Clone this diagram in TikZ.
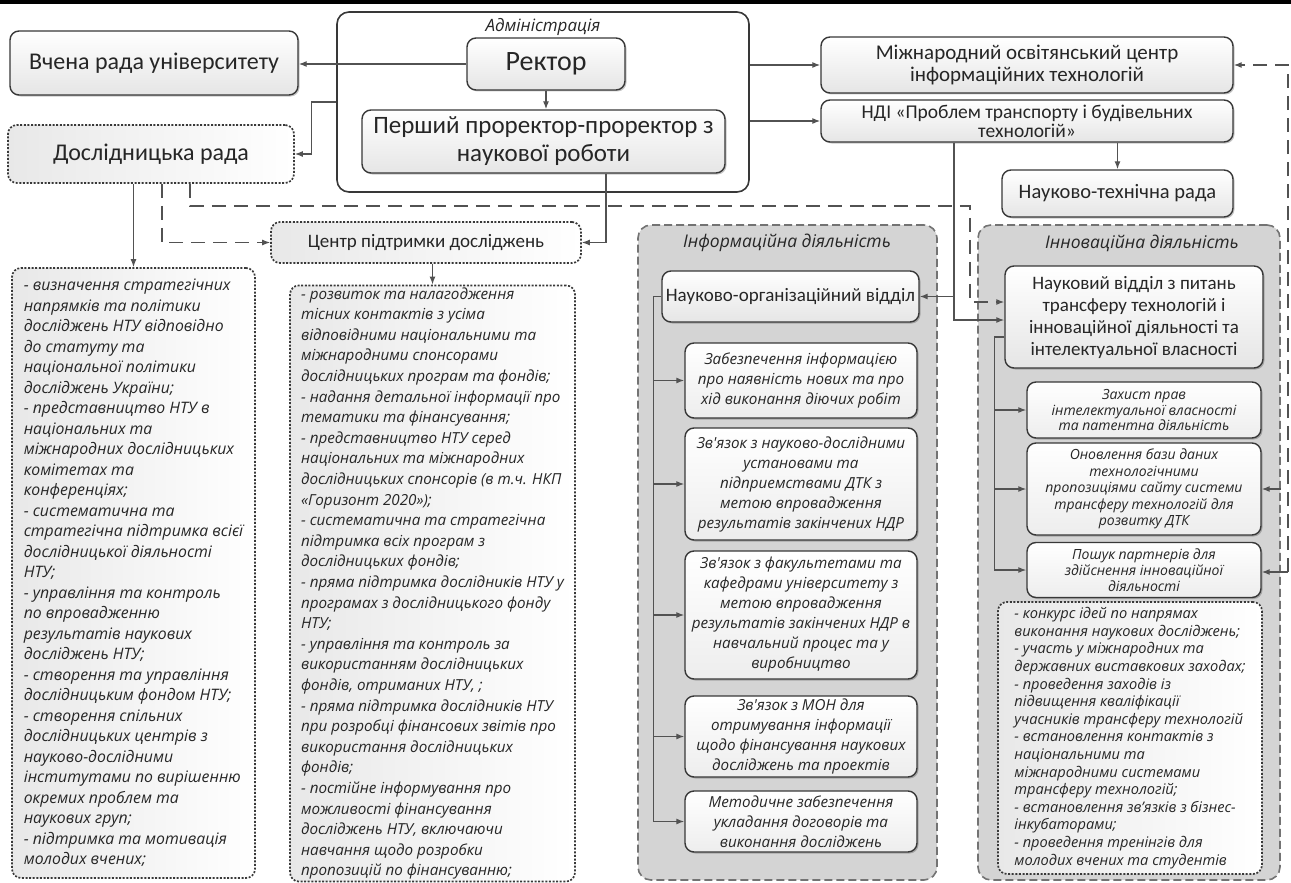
\documentclass[tikz,border=0pt]{standalone}
\usepackage{fontspec}
\setmainfont{Carlito}
\newfontfamily\osans{Open Sans}
\usetikzlibrary{arrows.meta,calc,shadows}
\newcommand\hf[2]{\fontsize{#1}{#2}\selectfont}
\newcommand\itf[2]{\osans\itshape\fontsize{#1}{#2}\selectfont}
\begin{document}
\begin{tikzpicture}[x=1pt,y=-1pt,
  wh/.style 2 args={minimum width=#1pt, minimum height=#2pt},
  conn/.style={draw=black!68, line width=1.2pt},
  arr/.style={conn, -{Latex[length=8pt,width=6pt]}},
  dconn/.style={conn, dash pattern=on 14pt off 8pt},
  darr/.style={dconn, -{Latex[length=8pt,width=6pt]}},
  shd/.style={drop shadow={shadow xshift=1.5pt, shadow yshift=-1.5pt, opacity=0.22, fill=black}},
  hdr/.style={shd, draw=black!78, line width=1.4pt, rounded corners=9pt, top color=white, bottom color=black!10, text=black!85, inner sep=2pt, align=center},
  dotbox/.style={draw=black!78, line width=1.7pt, dash pattern=on 2pt off 1.6pt, rounded corners=9pt, left color=black!9, right color=white, text=black!85, inner sep=2pt},
  actbox/.style={draw=black!55, line width=1.6pt, dash pattern=on 8pt off 4pt, rounded corners=13pt, fill=black!17},
  subbox/.style={shd, draw=black!78, line width=1.4pt, rounded corners=9pt, top color=white, bottom color=black!7, text=black!85, align=center, inner sep=2pt},
  admbox/.style={draw=black!78, line width=1.6pt, rounded corners=12pt, fill=white},
  ttl/.style={text=black!85, inner sep=1pt}
]
\useasboundingbox (0,0) rectangle (1291,883);
\fill[black] (0,0.5) rectangle (1291,4.5);

% administration
\node[admbox, wh={412}{180}] (admin) at (543,102) {};
\node[ttl, font=\itf{17}{19}] (admlab) at (543,27) {Адміністрація};
\node[hdr, wh={158}{52}, font=\hf{28}{30}] (rector) at (546,64) {Ректор};
\node[hdr, wh={363}{63}, font=\hf{25}{28}] (pershyi) at (543.5,141.5) {Перший проректор-проректор з\\наукової роботи};

% left side
\node[hdr, wh={288}{64}, font=\hf{24}{26}] (vchena) at (154,63) {Вчена рада університету};
\node[dotbox, wh={286}{58}, font=\hf{24}{26}] (dosl) at (151,154) {Дослідницька рада};
\node[dotbox, wh={310}{41}, font=\hf{19}{22}] (centr) at (426,242.5) {Центр підтримки досліджень};

\node[dotbox, wh={243}{610}, align=left, font=\itf{15.8}{20.5}] (leftlist) at (133.5,573) {%
- визначення стратегічних\\
напрямків та політики\\
досліджень НТУ відповідно\\
до статуту  та\\
національної політики\\
досліджень України;\\
- представництво НТУ в\\
національних та\\
міжнародних дослідницьких\\
комітетах та\\
конференціях;\\
- систематична та\\
стратегічна підтримка всієї\\
дослідницької діяльності\\
НТУ;\\
- управління та контроль\\
по впровадженню\\
результатів наукових\\
досліджень НТУ;\\
- створення та управління\\
дослідницьким фондом НТУ;\\
- створення спільних\\
дослідницьких центрів з\\
науково-дослідними\\
інститутами по вирішенню\\
окремих проблем та\\
наукових груп;\\
- підтримка та мотивація\\
молодих вчених;};

\node[dotbox, wh={285}{593}, align=left, font=\itf{15.2}{20.6}] (midlist) at (432.5,583.5) {%
- розвиток та налагодження\\
тісних контактів з усіма\\
відповідними національними та\\
міжнародними спонсорами\\
дослідницьких програм та фондів;\\
- надання  детальної інформації про\\
тематики та фінансування;\\
- представництво НТУ серед\\
національних та міжнародних\\
дослідницьких спонсорів (в т.ч. НКП\\
«Горизонт 2020»);\\
- систематична та стратегічна\\
підтримка всіх програм з\\
дослідницьких фондів;\\
- пряма підтримка дослідників НТУ у\\
програмах з дослідницького фонду\\
НТУ;\\
- управління та контроль за\\
використанням дослідницьких\\
фондів, отриманих НТУ, ;\\
- пряма підтримка дослідників НТУ\\
при розробці фінансових звітів про\\
використання дослідницьких\\
фондів;\\
- постійне інформування про\\
можливості фінансування\\
досліджень НТУ, включаючи\\
навчання щодо розробки\\
пропозицій по фінансуванню;};

% right top
\node[hdr, wh={412}{56}, font=\hf{21}{22}] (moc) at (1027,65) {Міжнародний освітянський центр\\інформаційних технологій};
\node[hdr, wh={412}{42}, font=\hf{19.5}{19}] (ndi) at (1027,121) {НДІ «Проблем транспорту і будівельних\\технологій»};
\node[hdr, wh={231}{47}, font=\hf{20.5}{22}] (ntr) at (1117.5,193.5) {Науково-технічна рада};

% information activity
\node[actbox, wh={299}{655}] (info) at (787.5,552.5) {};
\node[ttl, font=\itf{17.5}{19}] (infot) at (787,243) {Інформаційна діяльність};
\node[hdr, wh={257}{51}, font=\hf{19}{22}] (nod) at (790.5,296.5) {Науково-організаційний відділ};
\node[subbox, wh={232}{75}, font=\itf{15.2}{20}] (i1) at (801,380.5) {Забезпечення інформацією\\про наявність нових та про\\хід виконання діючих робіт};
\node[subbox, wh={232}{112}, font=\itf{15.2}{20}] (i2) at (801,484) {Зв'язок з науково-дослідними\\установами та\\підприемствами ДТК з\\метою впровадження\\результатів закінчених НДР};
\node[subbox, wh={232}{128}, font=\itf{15.2}{20}] (i3) at (801,615) {Зв'язок з факультетами та\\кафедрами університету з\\метою впровадження\\результатів закінчених НДР в\\навчальний процес та у\\виробництво};
\node[subbox, wh={232}{81}, font=\itf{15.2}{20}] (i4) at (801,736.5) {Зв'язок з МОН для\\отримування інформації\\щодо фінансування наукових\\досліджень та проектів};
\node[subbox, wh={232}{61}, font=\itf{15.2}{20}] (i5) at (801,821.5) {Методичне забезпечення\\укладання договорів та\\виконання досліджень};

% innovation activity
\node[actbox, wh={302}{655}] (inno) at (1129,552.5) {};
\node[ttl, font=\itf{17.5}{19}] (innot) at (1142,243) {Інноваційна діяльність};
\node[hdr, wh={258}{102}, font=\hf{19}{22}] (nvt) at (1134,317) {Науковий відділ з питань\\трансферу технологій і\\інноваційної діяльності та\\інтелектуальної власності};
\node[subbox, wh={234}{56}, inner sep=0.5pt, font=\itf{14}{15.8}] (n1) at (1144,410) {Захист прав\\інтелектуальної власності\\та патентна діяльність};
\node[subbox, wh={234}{92}, inner sep=0.5pt, font=\itf{14}{16.5}] (n2) at (1144,489) {Оновлення бази даних\\технологічними\\пропозиціями сайту системи\\трансферу технологій для\\розвитку ДТК};
\node[subbox, wh={234}{55}, inner sep=0.5pt, font=\itf{14}{15.8}] (n3) at (1144,570) {Пошук партнерів для\\здійснення інноваційної\\діяльності};
\node[dotbox, wh={264}{272}, align=left, inner sep=1pt, font=\itf{14.6}{17.6}] (nlist) at (1130,738) {%
- конкурс  ідей по напрямах\\
виконання наукових досліджень;\\
- участь у міжнародних та\\
державних виставкових заходах;\\
- проведення заходів із\\
підвищення кваліфікації\\
учасників трансферу технологій\\
- встановлення контактів з\\
національними та\\
міжнародними системами\\
трансферу технологій;\\
- встановлення зв’язків з бізнес-\\
інкубаторами;\\
- проведення тренінгів для\\
молодих вчених та студентів};

% connectors
\draw[arr] (rector.west) -- (vchena.east |- rector.west);
\draw[arr] (rector.south) -- (rector.south |- pershyi.north);
\draw[arr] (admin.west) -- ++(-25,0) |- (dosl.east);
\draw[arr] ($(pershyi.south)+(62.5,0)$) |- (centr.east);
\draw[arr] (leftlist.north |- dosl.south) -- (leftlist.north);
\draw[arr] (centr.south -| midlist.north) -- (midlist.north);
\draw[darr] ($(dosl.south)+(11,0)$) |- (centr.west);
\coordinate (dj) at (970,206);
\draw[darr] ($(dosl.south)+(39,0)$) |- (dj) |- ($(nvt.west)+(0,-15)$);
\draw[arr] ($(ndi.south)+(-73,0)$) |- ($(nvt.west)+(0,3)$);
\draw[arr] ($(ndi.south)+(-73,0)$) |- (nod.east);
\draw[arr] (ntr.north |- ndi.south) -- (ntr.north);
\draw[arr] (admin.east |- moc.west) -- (moc.west);
\draw[arr] (admin.east |- ndi.west) -- (ndi.west);
\coordinate (rc) at (1288,572);
\draw[darr] (rc) |- (moc.east);
\draw[arr] (rc) -- (n3.east |- rc);
\draw[arr] (inno.east |- n2.east) -- (n2.east);

% info column tree
\coordinate (ivt) at ($(nod.west)+(-8,0)$);
\draw[conn] (nod.west) -- (ivt) -- (ivt |- i5.west);
\foreach \k in {i1,i2,i3,i4,i5} \draw[arr] (ivt |- \k.west) -- (\k.west);

% innovation column tree
\coordinate (nvj) at ($(nvt.west)+(-10,20)$);
\draw[conn] ($(nvt.west)+(0,20)$) -- (nvj) -- (nvj |- n3.west);
\foreach \k in {n1,n2,n3} \draw[arr] (nvj |- \k.west) -- (\k.west);
\end{tikzpicture}
\end{document}
